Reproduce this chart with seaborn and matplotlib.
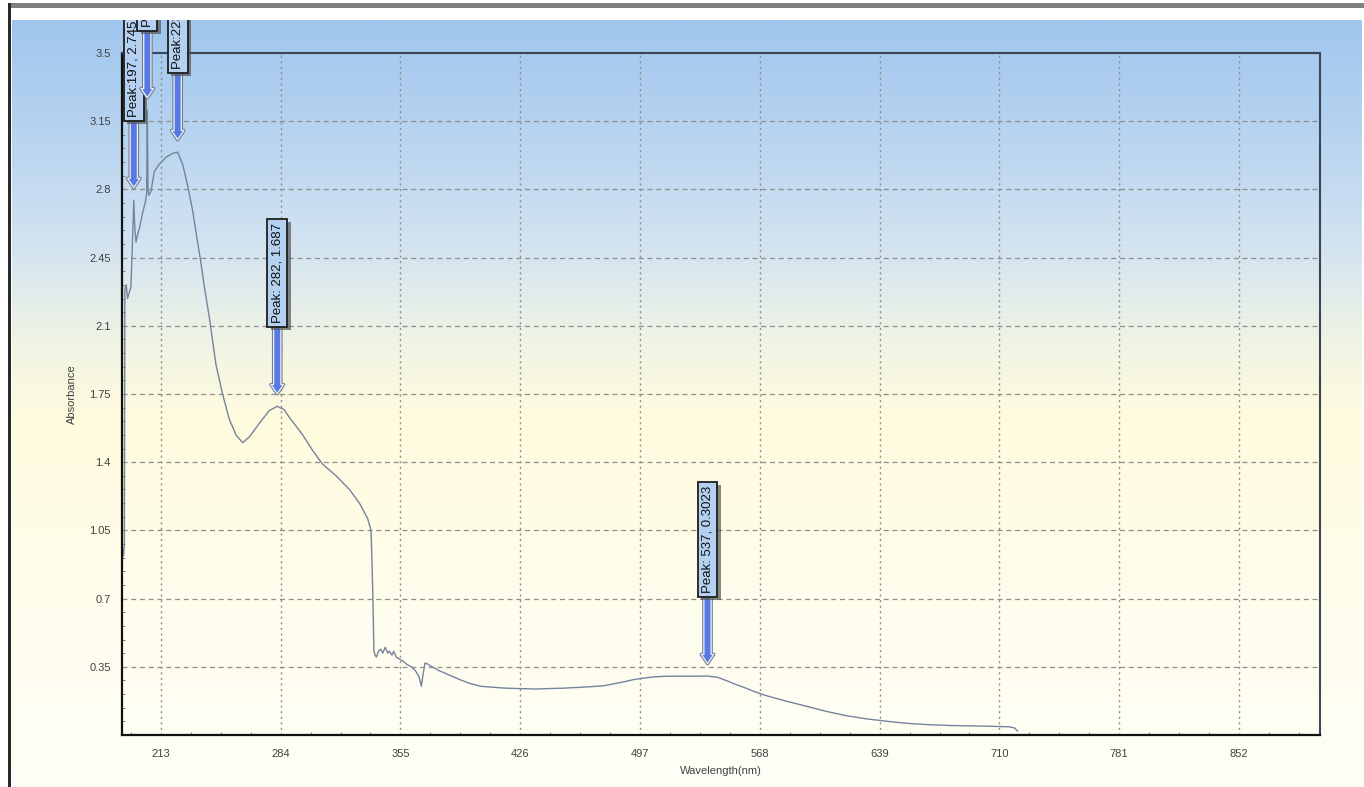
import numpy as np
import matplotlib
matplotlib.use('Agg')
import matplotlib.pyplot as plt
import matplotlib.patheffects as pe
from matplotlib.colors import LinearSegmentedColormap
from matplotlib.patches import Rectangle
from matplotlib.ticker import MultipleLocator
import seaborn as sns

# UV-Vis spectrum
wavelength = [190.0, 190.4, 190.9, 191.4, 191.7, 192.5, 193.3, 194.3, 195.3, 196.1,
              197.0, 197.6, 198.3, 199.3, 200.3, 202.2, 204.0, 204.6, 205.0, 205.4,
              205.9, 207.2, 209.1, 212.1, 216.1, 220.0, 223.0, 225.9, 228.9, 231.9,
              234.2, 236.5, 238.8, 241.8, 245.7, 249.6, 253.6, 257.6, 261.5, 265.5,
              271.4, 277.3, 282.0, 286.0, 289.2, 297.1, 303.0, 308.9, 316.9, 324.8,
              330.7, 335.6, 337.6, 338.2, 338.7, 339.3, 340.0, 340.8, 342.0, 343.5,
              344.5, 346.0, 347.5, 348.5, 350.0, 351.0, 352.5, 354.4, 356.4, 359.2,
              361.5, 363.9, 366.0, 367.4, 368.4, 369.6, 371.0, 373.7, 378.0, 383.3,
              390.0, 396.0, 402.6, 410.0, 418.0, 426.7, 435.0, 442.0, 450.8, 462.0,
              474.8, 481.0, 487.0, 493.0, 499.1, 505.0, 510.9, 517.0, 523.2, 530.0,
              537.0, 543.0, 547.1, 553.0, 559.3, 565.0, 571.4, 583.0, 595.4, 607.0,
              619.4, 631.0, 643.8, 655.0, 667.8, 680.0, 691.8, 703.0, 712.0, 716.0,
              719.0, 720.8]
absorbance = [0.79, 0.95, 0.92, 0.98, 2.29, 2.31, 2.24, 2.27, 2.30, 2.50,
              2.745, 2.60, 2.53, 2.57, 2.60, 2.68, 2.74, 2.78, 3.206, 2.80,
              2.77, 2.79, 2.89, 2.93, 2.965, 2.985, 2.991, 2.93, 2.82, 2.69,
              2.56, 2.44, 2.30, 2.14, 1.90, 1.75, 1.62, 1.54, 1.50, 1.53,
              1.60, 1.665, 1.687, 1.67, 1.63, 1.54, 1.46, 1.39, 1.33, 1.26,
              1.19, 1.11, 1.05, 0.88, 0.70, 0.43, 0.41, 0.40, 0.43, 0.44,
              0.42, 0.45, 0.42, 0.43, 0.41, 0.43, 0.40, 0.39, 0.38, 0.36,
              0.35, 0.33, 0.30, 0.25, 0.31, 0.37, 0.365, 0.35, 0.33, 0.31,
              0.285, 0.265, 0.25, 0.245, 0.24, 0.238, 0.236, 0.238, 0.24, 0.245,
              0.252, 0.262, 0.272, 0.284, 0.292, 0.298, 0.301, 0.302, 0.302, 0.302,
              0.3023, 0.296, 0.283, 0.262, 0.242, 0.222, 0.203, 0.175, 0.148, 0.122,
              0.099, 0.083, 0.07, 0.06, 0.053, 0.049, 0.047, 0.045, 0.043, 0.042,
              0.036, 0.02]

peak_nm = [197, 205, 223, 282, 537]
peak_abs = [2.745, 3.206, 2.991, 1.687, 0.3023]
peak_labels = ['Peak:197, 2.745', 'Peak:205, 3.206', 'Peak:223, 2.991',
               'Peak: 282, 1.687', 'Peak: 537, 0.3023']

x_ticks = [213, 284, 355, 426, 497, 568, 639, 710, 781, 852]
y_ticks = [0.35, 0.7, 1.05, 1.4, 1.75, 2.1, 2.45, 2.8, 3.15, 3.5]

sns.set_theme(style='white')
plt.rcParams['font.family'] = ['Liberation Sans', 'DejaVu Sans']

W, H = 1364, 787
fig = plt.figure(figsize=(W / 100, H / 100), dpi=100)
fig.patch.set_facecolor('white')

# gradient panel behind the chart
bg = fig.add_axes([0, 0, 1, 1], zorder=0)
stops = [(0.0, (160/255, 198/255, 238/255)),
         (0.15, (184/255, 212/255, 240/255)),
         (0.30, (212/255, 228/255, 240/255)),
         (0.42, (240/255, 244/255, 228/255)),
         (0.52, (255/255, 251/255, 222/255)),
         (0.75, (255/255, 253/255, 236/255)),
         (1.0, (255/255, 255/255, 247/255))]
cmap = LinearSegmentedColormap.from_list('panel', stops)
grad = np.linspace(0, 1, 256).reshape(-1, 1)
bg.imshow(grad, cmap=cmap, aspect='auto', extent=(12, 1362, 787, 20), interpolation='bilinear')
bg.set_xlim(0, W)
bg.set_ylim(H, 0)
bg.axis('off')

ax = fig.add_axes([122 / W, 1 - 735 / H, (1320 - 122) / W, (735 - 53) / H], zorder=1)
ax.set_facecolor('none')

sns.lineplot(x=wavelength, y=absorbance, ax=ax, color='#74849c', linewidth=1.0,
             estimator=None, sort=False)

ax.set_xlim(190, 900)
ax.set_ylim(0, 3.5)
ax.set_xticks(x_ticks)
ax.set_yticks(y_ticks)
ax.set_yticklabels([f'{v:g}' for v in y_ticks])
ax.xaxis.set_minor_locator(MultipleLocator(17.75))
ax.yaxis.set_minor_locator(MultipleLocator(0.07))

ax.yaxis.grid(True, linestyle=(0, (4, 3)), color='#8e8e8e', linewidth=0.9)
ax.xaxis.grid(True, linestyle=(0, (1.5, 2.5)), color='#8e8e8e', linewidth=1.0)
ax.set_axisbelow(True)

ax.tick_params(axis='y', which='major', direction='out', length=6, width=0.8,
               color='#7a7a7a', labelsize=8, labelcolor='#404040', pad=2)
ax.tick_params(axis='x', which='major', direction='out', length=3, width=0.8,
               color='#7a7a7a', labelsize=8, labelcolor='#404040', pad=7)
ax.tick_params(which='minor', direction='in', length=2.5, width=0.7, color='#808080')
ax.tick_params(axis='x', which='minor', bottom=True)
ax.tick_params(axis='y', which='minor', left=True)

for side in ['left', 'bottom']:
    ax.spines[side].set_color('#111111')
    ax.spines[side].set_linewidth(1.6)
for side in ['top', 'right']:
    ax.spines[side].set_color('#3a4658')
    ax.spines[side].set_linewidth(1.5)

ax.set_xlabel('Wavelength(nm)', fontsize=8, color='#404040', labelpad=5)
ax.set_ylabel('Absorbance', fontsize=8, color='#404040', labelpad=9)

# peak markers: label box with a shadow and a blue arrow down to the peak
box_shadow = [pe.withSimplePatchShadow(offset=(2.5, -2.5), shadow_rgbFace='#555555', alpha=0.7)]
arrow_edge = [pe.Stroke(linewidth=2.4, foreground='#6a7486'), pe.Normal()]
for nm, a, lab in zip(peak_nm, peak_abs, peak_labels):
    ann = ax.annotate(lab, xy=(nm, a), xytext=(0, 60), textcoords='offset points',
                      rotation=90, ha='center', va='bottom', fontsize=9.5, color='#101010',
                      bbox=dict(boxstyle='square,pad=0.3', fc='#b5d1f1', ec='#1e1e1e', lw=1.3,
                                path_effects=box_shadow),
                      arrowprops=dict(arrowstyle='simple,head_length=0.7,head_width=0.95,tail_width=0.55',
                                      fc='#5878e4', ec='#e4ebf7', lw=1.0, shrinkA=0, shrinkB=9))
    ann.arrow_patch.set_path_effects(arrow_edge)

# top strip and frame lines of the window
ov = fig.add_axes([0, 0, 1, 1], zorder=5)
ov.set_xlim(0, W)
ov.set_ylim(H, 0)
ov.axis('off')
ov.add_patch(Rectangle((0, 0), W, 20, fc='white', ec='none'))
ov.add_patch(Rectangle((8, 2.5), W - 8, 5, fc='#7f7f7f', ec='none'))
ov.add_patch(Rectangle((8, 2.5), 2.5, H, fc='#2a2a2a', ec='none'))

fig.savefig('out.png', dpi=100)
